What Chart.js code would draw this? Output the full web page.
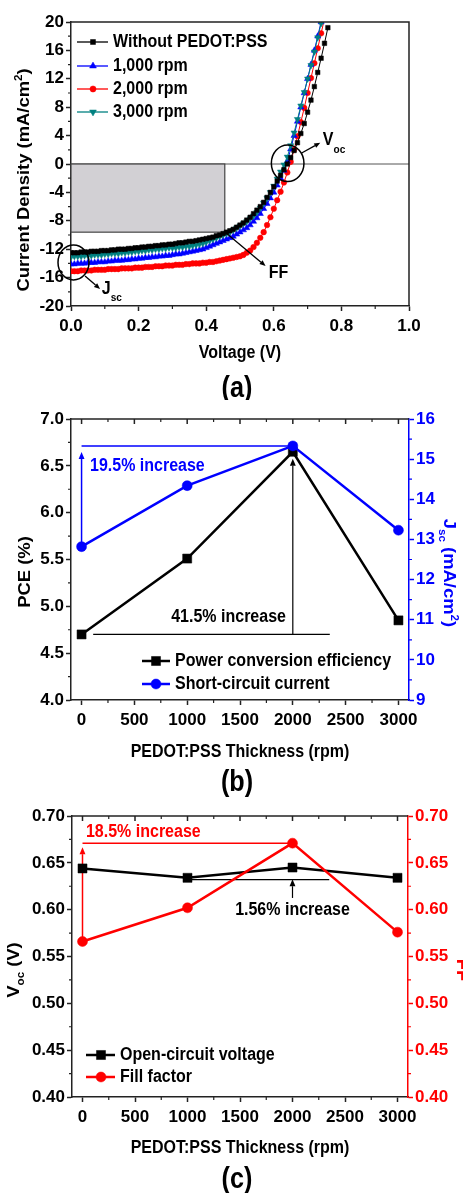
<!DOCTYPE html>
<html>
<head>
<meta charset="utf-8">
<title>PEDOT:PSS solar cell characteristics</title>
<script src="https://cdn.jsdelivr.net/npm/chart.js@4.4.1/dist/chart.umd.min.js"></script>
<style>
html,body{margin:0;padding:0;background:#ffffff;}
#wrap{position:relative;width:463px;height:1193px;overflow:hidden;background:#fff;}
#wrap canvas{position:absolute;left:0;display:block;}
</style>
</head>
<body>
<div id="wrap">
<canvas id="chartA" width="463" height="400" style="top:0px;width:463px;height:400px;"></canvas>
<canvas id="chartB" width="463" height="400" style="top:400px;width:463px;height:400px;"></canvas>
<canvas id="chartC" width="463" height="393" style="top:800px;width:463px;height:393px;"></canvas>
</div>
<script>
// ================= DATA =================
// (a) J-V curves
const voltage = [
0.00,0.01,0.02,0.03,0.04,0.05,0.06,0.07,0.08,0.09,
0.10,0.11,0.12,0.13,0.14,0.15,0.16,0.17,0.18,0.19,
0.20,0.21,0.22,0.23,0.24,0.25,0.26,0.27,0.28,0.29,
0.30,0.31,0.32,0.33,0.34,0.35,0.36,0.37,0.38,0.39,
0.40,0.41,0.42,0.43,0.44,0.45,0.46,0.47,0.48,0.49,
0.50,0.51,0.52,0.53,0.54,0.55,0.56,0.57,0.58,0.59,
0.60,0.61,0.62,0.63,0.64,0.65,0.66,0.67,0.68,0.69,
0.70,0.71,0.72,0.73,0.74,0.75,0.76];
const jWithout = [
-12.5,-12.5,-12.5,-12.4,-12.4,-12.4,-12.3,-12.3,-12.3,-12.2,
-12.2,-12.2,-12.1,-12.1,-12.0,-12.0,-12.0,-11.9,-11.9,-11.8,
-11.8,-11.7,-11.7,-11.6,-11.6,-11.5,-11.5,-11.4,-11.4,-11.3,
-11.3,-11.2,-11.1,-11.1,-11.0,-10.9,-10.9,-10.8,-10.7,-10.6,
-10.5,-10.4,-10.3,-10.1,-10.0,-9.8,-9.6,-9.4,-9.2,-8.9,
-8.6,-8.3,-7.9,-7.5,-7.0,-6.5,-6.0,-5.4,-4.7,-4.0,
-3.2,-2.4,-1.6,-0.8,0.0,0.9,1.9,3.0,4.3,5.7,
7.3,9.0,10.9,12.9,14.9,17.0,19.2];
const j1000 = [
-14.1,-14.1,-14.0,-14.0,-14.0,-13.9,-13.9,-13.9,-13.8,-13.8,
-13.8,-13.7,-13.7,-13.6,-13.6,-13.6,-13.5,-13.5,-13.4,-13.4,
-13.3,-13.3,-13.2,-13.2,-13.1,-13.1,-13.0,-13.0,-12.9,-12.9,
-12.8,-12.7,-12.7,-12.6,-12.5,-12.4,-12.3,-12.2,-12.1,-12.0,
-11.8,-11.6,-11.4,-11.2,-11.0,-10.8,-10.6,-10.4,-10.2,-9.9,
-9.6,-9.3,-9.0,-8.6,-8.1,-7.6,-7.0,-6.3,-5.6,-4.8,
-4.0,-3.0,-2.0,-0.9,0.4,2.1,4.0,6.0,8.0,10.0,
12.0,14.0,16.0,18.0,20.0];
const j2000 = [
-15.1,-15.1,-15.1,-15.0,-15.0,-15.0,-15.0,-14.9,-14.9,-14.9,
-14.9,-14.8,-14.8,-14.8,-14.8,-14.7,-14.7,-14.7,-14.7,-14.6,
-14.6,-14.6,-14.5,-14.5,-14.5,-14.4,-14.4,-14.4,-14.3,-14.3,
-14.3,-14.2,-14.2,-14.2,-14.1,-14.1,-14.0,-14.0,-14.0,-13.9,
-13.9,-13.8,-13.8,-13.7,-13.6,-13.5,-13.4,-13.3,-13.2,-13.1,
-13.0,-12.8,-12.5,-12.2,-11.7,-11.1,-10.4,-9.6,-8.6,-7.5,
-6.3,-5.1,-3.9,-2.6,-1.2,0.3,2.0,3.9,5.9,7.9,
10.0,12.1,14.2,16.3,18.4,20.5];
const j3000 = [
-13.1,-13.0,-13.0,-13.0,-12.9,-12.9,-12.9,-12.8,-12.8,-12.8,
-12.7,-12.7,-12.6,-12.6,-12.6,-12.5,-12.5,-12.4,-12.4,-12.3,
-12.3,-12.2,-12.2,-12.1,-12.1,-12.0,-12.0,-11.9,-11.9,-11.8,
-11.8,-11.8,-11.7,-11.7,-11.6,-11.6,-11.5,-11.4,-11.3,-11.2,
-11.0,-10.8,-10.6,-10.4,-10.2,-10.0,-9.8,-9.6,-9.3,-9.0,
-8.7,-8.4,-8.1,-7.7,-7.3,-6.8,-6.2,-5.5,-4.8,-4.0,
-3.1,-2.1,-1.1,-0.1,1.0,2.6,4.4,6.3,8.2,10.1,
12.0,13.9,15.8,17.8,19.8];
const jvNames = ['Without PEDOT:PSS', '1,000 rpm', '2,000 rpm', '3,000 rpm'];
const aXTicks = [0.0, 0.2, 0.4, 0.6, 0.8, 1.0];
const aYTicks = [-20, -16, -12, -8, -4, 0, 4, 8, 12, 16, 20];

// (b), (c) device parameters vs PEDOT:PSS spin speed
const thickness = [0, 1000, 2000, 3000];
const pce = [4.70, 5.51, 6.65, 4.85];
const jsc = [12.82, 14.34, 15.33, 13.23];
const voc = [0.644, 0.634, 0.645, 0.634];
const ff  = [0.566, 0.602, 0.671, 0.576];
const rpmTicks = [0, 500, 1000, 1500, 2000, 2500, 3000];
const pceTicks = [4.0, 4.5, 5.0, 5.5, 6.0, 6.5, 7.0];
const jscTicks = [9, 10, 11, 12, 13, 14, 15, 16];
const vocTicks = [0.40, 0.45, 0.50, 0.55, 0.60, 0.65, 0.70];
const ffTicks  = [0.40, 0.45, 0.50, 0.55, 0.60, 0.65, 0.70];

// ================= FONTS =================
function fontAvailable(name){
  const c = document.createElement('canvas').getContext('2d');
  const s = 'Voltage (V) PEDOT:PSS 0123456789 mmmwww';
  c.font = 'bold 40px monospace'; const w1 = c.measureText(s).width;
  c.font = 'bold 40px serif'; const w2 = c.measureText(s).width;
  c.font = 'bold 40px "' + name + '", monospace'; const w3 = c.measureText(s).width;
  c.font = 'bold 40px "' + name + '", serif'; const w4 = c.measureText(s).width;
  return (w3 !== w1) || (w4 !== w2);
}
const NARROW = fontAvailable('Liberation Sans Narrow');
const FAMQ = NARROW ? '"Liberation Sans Narrow", "Liberation Sans", Arial, sans-serif'
                    : '"Liberation Sans", Arial, sans-serif';
const K = NARROW ? 1 : 0.84;          // width factor of the fallback font
const SY = NARROW ? 1 : 1.15;         // vertical stretch of drawn text (reference glyphs are tall)
const fs = n => Math.round(n * K * 10) / 10;
const tickFont = {family: FAMQ, size: NARROW ? 19 : 17, weight: 'bold'};

// ================= HELPERS =================
const BLUE = '#0000ff', RED = '#ff0000', TEAL = '#008080', BLACK = '#000000', AX = '#222222';

function txt(ctx, parts, x, y, angle, align, color){
  ctx.save();
  ctx.translate(x, y); ctx.scale(1, SY); ctx.rotate(angle || 0);
  ctx.fillStyle = color || '#000'; ctx.textBaseline = 'middle'; ctx.textAlign = 'left';
  let total = 0;
  const ws = parts.map(p => { ctx.font = 'bold ' + fs(p.size) + 'px ' + FAMQ; const w = ctx.measureText(p.t).width; total += w; return w; });
  let cx = align === 'center' ? -total / 2 : (align === 'right' ? -total : 0);
  parts.forEach((p, i) => { ctx.font = 'bold ' + fs(p.size) + 'px ' + FAMQ; ctx.fillText(p.t, cx, (p.dy || 0) * K); cx += ws[i]; });
  ctx.restore();
}
function marker(ctx, style, x, y, r, rot, color){
  ctx.save(); ctx.fillStyle = color; ctx.strokeStyle = color; ctx.lineWidth = 0.5;
  ctx.beginPath();
  if (style === 'rect') { const s = r * Math.SQRT1_2; ctx.rect(x - s, y - s, 2 * s, 2 * s); }
  else if (style === 'circle') { ctx.arc(x, y, r, 0, 2 * Math.PI); }
  else {
    let a = (rot || 0) * Math.PI / 180;
    for (let k = 0; k < 3; k++) { const px = x + Math.sin(a) * r, py = y - Math.cos(a) * r; if (k) ctx.lineTo(px, py); else ctx.moveTo(px, py); a += 2 * Math.PI / 3; }
    ctx.closePath();
  }
  ctx.fill(); ctx.stroke(); ctx.restore();
}
function arrow(ctx, x1, y1, x2, y2, color, lw, head){
  const h = head || 7, w = h * 0.42;
  const a = Math.atan2(y2 - y1, x2 - x1);
  const bx = x2 - h * Math.cos(a), by = y2 - h * Math.sin(a);
  ctx.save(); ctx.strokeStyle = color; ctx.fillStyle = color; ctx.lineWidth = lw;
  ctx.beginPath(); ctx.moveTo(x1, y1); ctx.lineTo(bx, by); ctx.stroke();
  ctx.beginPath(); ctx.moveTo(x2, y2);
  ctx.lineTo(bx + w * Math.sin(a), by - w * Math.cos(a));
  ctx.lineTo(bx - w * Math.sin(a), by + w * Math.cos(a));
  ctx.closePath(); ctx.fill(); ctx.restore();
}
function hline(ctx, x1, x2, y, color, lw){
  ctx.save(); ctx.strokeStyle = color; ctx.lineWidth = lw; ctx.beginPath(); ctx.moveTo(x1, y); ctx.lineTo(x2, y); ctx.stroke(); ctx.restore();
}
function minorVals(s){ const v = s.ticks.map(t => t.value); const m = []; for (let i = 0; i < v.length - 1; i++) m.push((v[i] + v[i + 1]) / 2); return m; }
function tickMarks(chart, s, vals, len, color, lw, side){
  const ca = chart.chartArea, ctx = chart.ctx;
  ctx.save(); ctx.strokeStyle = color; ctx.lineWidth = lw; ctx.beginPath();
  vals.forEach(v => {
    const p = s.getPixelForValue(v);
    if (side === 'bottom') { ctx.moveTo(p, ca.bottom); ctx.lineTo(p, ca.bottom + len); }
    else if (side === 'topIn') { ctx.moveTo(p, ca.top); ctx.lineTo(p, ca.top + len); }
    else if (side === 'left') { ctx.moveTo(ca.left, p); ctx.lineTo(ca.left - len, p); }
    else if (side === 'right') { ctx.moveTo(ca.right, p); ctx.lineTo(ca.right + len, p); }
  });
  ctx.stroke(); ctx.restore();
}
function drawLegend(chart, cfg){
  const ctx = chart.ctx;
  chart.data.datasets.forEach((ds, i) => {
    const y = cfg.rows[i];
    hline(ctx, cfg.x0, cfg.x1, y, ds.borderColor, cfg.lw);
    marker(ctx, ds.pointStyle, cfg.mx, y, ds.pointRadius * (cfg.scale || 1), ds.pointRotation || 0, ds.borderColor);
    txt(ctx, [{t: ds.label, size: cfg.size}], cfg.tx, y, 0, 'left', '#000');
  });
}
function axisX(min, max, ticks, fmt, h){
  return {type: 'linear', position: 'bottom', min: min, max: max,
    afterBuildTicks: s => { s.ticks = ticks.map(v => ({value: v})); },
    afterFit: s => { s.height = h; },
    ticks: {font: tickFont, color: '#000', padding: 5, maxRotation: 0, minRotation: 0, autoSkip: false, callback: v => fmt(v)},
    grid: {drawOnChartArea: false, drawTicks: true, tickLength: 5, tickWidth: 1.5, tickColor: AX},
    border: {display: true, color: AX, width: 1.5}};
}
function axisY(pos, min, max, ticks, fmt, w, color, bcolor){
  return {type: 'linear', position: pos, min: min, max: max,
    afterBuildTicks: s => { s.ticks = ticks.map(v => ({value: v})); },
    afterFit: s => { s.width = w; },
    ticks: {font: tickFont, color: color, padding: 2, autoSkip: false, callback: v => fmt(v)},
    grid: {drawOnChartArea: false, drawTicks: true, tickLength: 5, tickWidth: 1.5, tickColor: bcolor},
    border: {display: true, color: bcolor, width: 1.5}};
}
const baseOpts = {responsive: false, maintainAspectRatio: false, animation: false, devicePixelRatio: 1, events: []};

// ================= (a) =================
const annA = {
  box: {v0: 0, v1: 0.455, j0: 0, j1: -9.6},
  jscCircle: {v: 0.0074, j: -13.87, rx: 15.5, ry: 17.5},
  jscArrow: {v0: 0.0415, j0: -15.77, v1: 0.086, j1: -17.6},
  jscLabel: {v: 0.091, j: -17.6},
  vocCircle: {v: 0.641, j: 0.1, rx: 16.3, ry: 18.3},
  vocArrow: {v0: 0.6825, j0: 1.55, v1: 0.7374, j1: 3.0},
  vocLabel: {v: 0.745, j: 3.38},
  ffArrow: {v0: 0.458, j0: -9.7, v1: 0.5757, j1: -14.37},
  ffLabel: {v: 0.585, j: -15.4}
};
function jvSet(label, arr, color, style, rot, r, order){
  return {label: label, data: arr.map((j, i) => ({x: voltage[i], y: j})), showLine: true,
    borderColor: color, backgroundColor: color, borderWidth: 1,
    pointStyle: style, pointRotation: rot, pointRadius: r, pointBorderWidth: 0.5,
    pointBackgroundColor: color, pointBorderColor: color, order: order};
}
const plugA = {
  id: 'plugA',
  beforeDatasetsDraw(chart){
    const {ctx, chartArea: ca, scales: {x, y}} = chart;
    const y0 = y.getPixelForValue(0);
    hline(ctx, ca.left, ca.right, y0, '#555', 1);
    const b = annA.box;
    const bx1 = x.getPixelForValue(b.v0), bx2 = x.getPixelForValue(b.v1), by1 = y.getPixelForValue(b.j0), by2 = y.getPixelForValue(b.j1);
    ctx.save(); ctx.fillStyle = '#d2d0d4'; ctx.fillRect(bx1, by1, bx2 - bx1, by2 - by1);
    ctx.strokeStyle = '#444'; ctx.lineWidth = 1.2; ctx.strokeRect(bx1, by1, bx2 - bx1, by2 - by1); ctx.restore();
  },
  afterDraw(chart){
    const {ctx, chartArea: ca, scales: {x, y}} = chart;
    ctx.save(); ctx.strokeStyle = AX; ctx.lineWidth = 1.5; ctx.beginPath();
    ctx.moveTo(ca.left, ca.top); ctx.lineTo(ca.right, ca.top); ctx.lineTo(ca.right, ca.bottom); ctx.stroke(); ctx.restore();
    tickMarks(chart, x, minorVals(x), 3, AX, 1.2, 'bottom');
    tickMarks(chart, y, minorVals(y), 3, AX, 1.2, 'left');
    ctx.save(); ctx.strokeStyle = '#000'; ctx.lineWidth = 1.5;
    [annA.jscCircle, annA.vocCircle].forEach(c => { ctx.beginPath(); ctx.ellipse(x.getPixelForValue(c.v), y.getPixelForValue(c.j), c.rx, c.ry, 0, 0, 2 * Math.PI); ctx.stroke(); });
    ctx.restore();
    [annA.jscArrow, annA.vocArrow, annA.ffArrow].forEach(a => arrow(ctx, x.getPixelForValue(a.v0), y.getPixelForValue(a.j0), x.getPixelForValue(a.v1), y.getPixelForValue(a.j1), '#000', 1.3, 6));
    txt(ctx, [{t: 'J', size: 19}, {t: 'sc', size: 12, dy: 9}], x.getPixelForValue(annA.jscLabel.v), y.getPixelForValue(annA.jscLabel.j), 0, 'left', '#000');
    txt(ctx, [{t: 'V', size: 19}, {t: 'oc', size: 12, dy: 10}], x.getPixelForValue(annA.vocLabel.v), y.getPixelForValue(annA.vocLabel.j), 0, 'left', '#000');
    txt(ctx, [{t: 'FF', size: 19}], x.getPixelForValue(annA.ffLabel.v), y.getPixelForValue(annA.ffLabel.j), 0, 'left', '#000');
    txt(ctx, [{t: 'Voltage (V)', size: 19}], 240, 353, 0, 'center', '#000');
    txt(ctx, [{t: 'Current Density (mA/cm', size: 19}, {t: '2', size: 12, dy: -7}, {t: ')', size: 19}], 25, 180, -Math.PI / 2, 'center', '#000');
    txt(ctx, [{t: '(a)', size: 30}], 237, 389, 0, 'center', '#000');
    drawLegend(chart, {x0: 77, x1: 108, mx: 93, tx: 113, rows: [42, 66, 89, 112], lw: 1.3, size: 19, scale: 1.1});
  }
};
new Chart(document.getElementById('chartA'), {
  type: 'scatter',
  data: {datasets: [
    jvSet(jvNames[0], jWithout, BLACK, 'rect', 0, 3.2, 0),
    jvSet(jvNames[1], j1000, BLUE, 'triangle', 0, 3.6, 2),
    jvSet(jvNames[2], j2000, RED, 'circle', 0, 2.8, 3),
    jvSet(jvNames[3], j3000, TEAL, 'triangle', 180, 3.6, 1)
  ]},
  options: Object.assign({}, baseOpts, {
    layout: {padding: {top: 22, right: 54, left: 0, bottom: 0}},
    plugins: {legend: {display: false}, tooltip: {enabled: false}},
    scales: {
      x: axisX(0, 1, aXTicks, v => v.toFixed(1), 94),
      y: axisY('left', -20, 20, aYTicks, v => String(v), 71, '#000', AX)
    }
  }),
  plugins: [plugA]
});

// ================= (b) =================
const annB = {
  jscLine: {x0: 0, x1: 2000},
  jscArrowX: 0,
  jscText: {x: 80, y2: 14.83},
  pceLine: {x0: 110, x1: 2350},
  pceArrowX: 2000,
  pceText: {x: 1935, y: 4.886}
};
const plugB = {
  id: 'plugB',
  beforeDatasetsDraw(chart){
    const {ctx, scales: {x, y, y2}} = chart;
    const yj = y2.getPixelForValue(jsc[2]);
    hline(ctx, x.getPixelForValue(annB.jscLine.x0), x.getPixelForValue(annB.jscLine.x1), yj, BLUE, 1.5);
    arrow(ctx, x.getPixelForValue(annB.jscArrowX), y2.getPixelForValue(jsc[0]), x.getPixelForValue(annB.jscArrowX), yj + 6, BLUE, 1.5, 7);
    const yp = y.getPixelForValue(pce[0]);
    hline(ctx, x.getPixelForValue(annB.pceLine.x0), x.getPixelForValue(annB.pceLine.x1), yp, '#000', 1.2);
    arrow(ctx, x.getPixelForValue(annB.pceArrowX), yp, x.getPixelForValue(annB.pceArrowX), y.getPixelForValue(pce[2]) + 7, '#000', 1.2, 7);
  },
  afterDraw(chart){
    const {ctx, chartArea: ca, scales: {x, y, y2}} = chart;
    hline(ctx, ca.left, ca.right, ca.top, AX, 1.5);
    const xs = x.ticks.map(t => t.value);
    tickMarks(chart, x, xs, 5, AX, 1.5, 'topIn');
    tickMarks(chart, x, minorVals(x), 3, AX, 1.2, 'topIn');
    tickMarks(chart, x, minorVals(x), 3, AX, 1.2, 'bottom');
    tickMarks(chart, y, minorVals(y), 3, AX, 1.2, 'left');
    tickMarks(chart, y2, minorVals(y2), 3, BLUE, 1.2, 'right');
    txt(ctx, [{t: '19.5% increase', size: 19}], x.getPixelForValue(annB.jscText.x), y2.getPixelForValue(annB.jscText.y2), 0, 'left', BLUE);
    txt(ctx, [{t: '41.5% increase', size: 19}], x.getPixelForValue(annB.pceText.x), y.getPixelForValue(annB.pceText.y), 0, 'right', '#000');
    txt(ctx, [{t: 'PEDOT:PSS Thickness (rpm)', size: 19}], 240, 352, 0, 'center', '#000');
    txt(ctx, [{t: 'PCE (%)', size: 19}], 26, 172, -Math.PI / 2, 'center', '#000');
    txt(ctx, [{t: 'J', size: 19}, {t: 'sc', size: 12, dy: 7}, {t: ' (mA/cm', size: 19}, {t: '2', size: 12, dy: -7}, {t: ')', size: 19}], 448, 173, Math.PI / 2, 'center', BLUE);
    txt(ctx, [{t: '(b)', size: 30}], 237, 383, 0, 'center', '#000');
    drawLegend(chart, {x0: 142, x1: 170, mx: 156, tx: 175, rows: [261, 284], lw: 2.5, size: 19, scale: 1});
  }
};
new Chart(document.getElementById('chartB'), {
  type: 'scatter',
  data: {datasets: [
    {label: 'Power conversion efficiency', data: thickness.map((t, i) => ({x: t, y: pce[i]})), yAxisID: 'y', showLine: true,
     borderColor: BLACK, backgroundColor: BLACK, borderWidth: 2.5, pointStyle: 'rect', pointRadius: 6.4,
     pointBackgroundColor: BLACK, pointBorderColor: BLACK, pointBorderWidth: 0.5, order: 1},
    {label: 'Short-circuit current', data: thickness.map((t, i) => ({x: t, y: jsc[i]})), yAxisID: 'y2', showLine: true,
     borderColor: BLUE, backgroundColor: BLUE, borderWidth: 2.5, pointStyle: 'circle', pointRadius: 5,
     pointBackgroundColor: BLUE, pointBorderColor: BLUE, pointBorderWidth: 0.5, order: 0}
  ]},
  options: Object.assign({}, baseOpts, {
    layout: {padding: {top: 19, right: 0, left: 0, bottom: 0}},
    plugins: {legend: {display: false}, tooltip: {enabled: false}},
    scales: {
      x: axisX(-100, 3100, rpmTicks, v => String(v), 100),
      y: axisY('left', 4, 7, pceTicks, v => v.toFixed(1), 71, '#000', AX),
      y2: axisY('right', 9, 16, jscTicks, v => String(v), 54, BLUE, BLUE)
    }
  }),
  plugins: [plugB]
});

// ================= (c) =================
const annC = {
  ffLine: {x0: 0, x1: 2000},
  ffArrowX: 0,
  ffText: {x: 33, y: 0.683},
  vocLine: {x0: 1000, x1: 2350, y: 0.632},
  vocArrow: {x: 2000, y0: 0.6125, y1: 0.6325},
  vocText: {x: 2000, y: 0.600}
};
const plugC = {
  id: 'plugC',
  beforeDatasetsDraw(chart){
    const {ctx, scales: {x, y, y2}} = chart;
    const yf = y2.getPixelForValue(ff[2]);
    hline(ctx, x.getPixelForValue(annC.ffLine.x0), x.getPixelForValue(annC.ffLine.x1), yf, RED, 1.5);
    arrow(ctx, x.getPixelForValue(annC.ffArrowX), y2.getPixelForValue(ff[0]), x.getPixelForValue(annC.ffArrowX), yf + 4, RED, 1.5, 7);
    hline(ctx, x.getPixelForValue(annC.vocLine.x0), x.getPixelForValue(annC.vocLine.x1), y.getPixelForValue(annC.vocLine.y), '#000', 1.2);
    arrow(ctx, x.getPixelForValue(annC.vocArrow.x), y.getPixelForValue(annC.vocArrow.y0), x.getPixelForValue(annC.vocArrow.x), y.getPixelForValue(annC.vocArrow.y1), '#000', 1.2, 7);
  },
  afterDraw(chart){
    const {ctx, chartArea: ca, scales: {x, y, y2}} = chart;
    hline(ctx, ca.left, ca.right, ca.top, AX, 1.5);
    const xs = x.ticks.map(t => t.value);
    tickMarks(chart, x, xs, 5, AX, 1.5, 'topIn');
    tickMarks(chart, x, minorVals(x), 3, AX, 1.2, 'topIn');
    tickMarks(chart, x, minorVals(x), 3, AX, 1.2, 'bottom');
    tickMarks(chart, y, minorVals(y), 3, AX, 1.2, 'left');
    tickMarks(chart, y2, minorVals(y2), 3, RED, 1.2, 'right');
    txt(ctx, [{t: '18.5% increase', size: 19}], x.getPixelForValue(annC.ffText.x), y2.getPixelForValue(annC.ffText.y), 0, 'left', RED);
    txt(ctx, [{t: '1.56% increase', size: 19}], x.getPixelForValue(annC.vocText.x), y.getPixelForValue(annC.vocText.y), 0, 'center', '#000');
    txt(ctx, [{t: 'PEDOT:PSS Thickness (rpm)', size: 19}], 240, 348, 0, 'center', '#000');
    txt(ctx, [{t: 'V', size: 19}, {t: 'oc', size: 12, dy: 7}, {t: ' (V)', size: 19}], 15, 170, -Math.PI / 2, 'center', '#000');
    txt(ctx, [{t: 'FF', size: 19}], 461, 170, Math.PI / 2, 'center', RED);
    txt(ctx, [{t: '(c)', size: 30}], 237, 380, 0, 'center', '#000');
    drawLegend(chart, {x0: 86, x1: 115, mx: 101, tx: 120, rows: [255, 277], lw: 2.5, size: 19, scale: 1});
  }
};
new Chart(document.getElementById('chartC'), {
  type: 'scatter',
  data: {datasets: [
    {label: 'Open-circuit voltage', data: thickness.map((t, i) => ({x: t, y: voc[i]})), yAxisID: 'y', showLine: true,
     borderColor: BLACK, backgroundColor: BLACK, borderWidth: 2.5, pointStyle: 'rect', pointRadius: 6.4,
     pointBackgroundColor: BLACK, pointBorderColor: BLACK, pointBorderWidth: 0.5, order: 1},
    {label: 'Fill factor', data: thickness.map((t, i) => ({x: t, y: ff[i]})), yAxisID: 'y2', showLine: true,
     borderColor: RED, backgroundColor: RED, borderWidth: 2.5, pointStyle: 'circle', pointRadius: 5,
     pointBackgroundColor: RED, pointBorderColor: RED, pointBorderWidth: 0.5, order: 0}
  ]},
  options: Object.assign({}, baseOpts, {
    layout: {padding: {top: 16, right: 0, left: 0, bottom: 0}},
    plugins: {legend: {display: false}, tooltip: {enabled: false}},
    scales: {
      x: axisX(-100, 3100, rpmTicks, v => String(v), 96),
      y: axisY('left', 0.40, 0.70, vocTicks, v => v.toFixed(2), 72, '#000', AX),
      y2: axisY('right', 0.40, 0.70, ffTicks, v => v.toFixed(2), 55, RED, RED)
    }
  }),
  plugins: [plugC]
});
</script>
</body>
</html>
